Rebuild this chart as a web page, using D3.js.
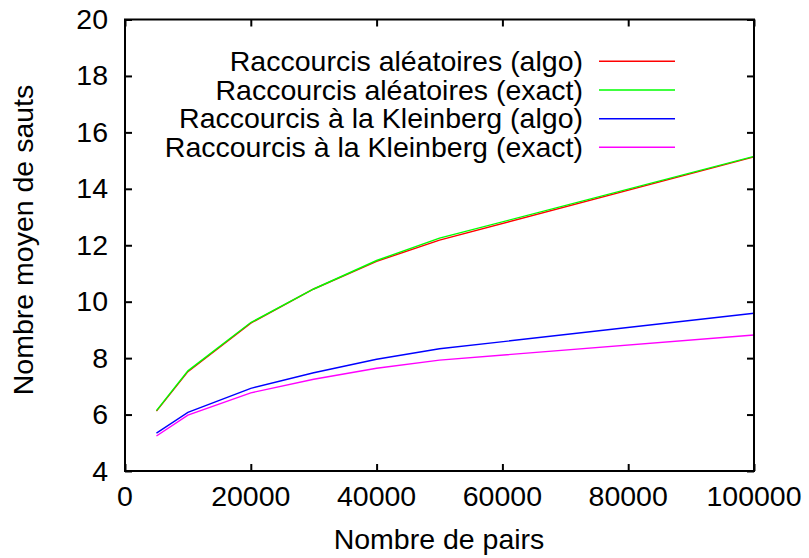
<!DOCTYPE html>
<html>
<head>
<meta charset="utf-8">
<script src="https://cdn.jsdelivr.net/npm/d3@7"></script>
<style>
  body { margin: 0; background: #fff; }
  text { font-family: "Liberation Sans", Arial, sans-serif; fill: #000; }
</style>
</head>
<body>
<svg id="chart"></svg>
<script>
// data
var pairs = [5000, 10000, 20000, 30000, 40000, 50000, 100000];
var randAlgo = [6.12, 7.52, 9.24, 10.45, 11.43, 12.18, 15.13];
var randExact = [6.14, 7.55, 9.26, 10.45, 11.46, 12.25, 15.15];
var kleinAlgo = [5.34, 6.08, 6.93, 7.48, 7.96, 8.33, 9.59];
var kleinExact = [5.24, 5.98, 6.77, 7.25, 7.64, 7.93, 8.82];

var seriesNames = [
    "Raccourcis aléatoires (algo)",
    "Raccourcis aléatoires (exact)",
    "Raccourcis à la Kleinberg (algo)",
    "Raccourcis à la Kleinberg (exact)"
];
var seriesColors = ["#ff0000", "#00ff00", "#0000ff", "#ff00ff"];
var seriesValues = [randAlgo, randExact, kleinAlgo, kleinExact];

var xTicks = [0, 20000, 40000, 60000, 80000, 100000];
var yTicks = [4, 6, 8, 10, 12, 14, 16, 18, 20];

var width = 809, height = 558;
var plotLeft = 125, plotRight = 754, plotTop = 19.5, plotBottom = 471;
var fontSize = 28.5;

var svg = d3.select("#chart")
    .attr("width", width)
    .attr("height", height);

// scales
var xScale = d3.scaleLinear().domain([0, 100000]).range([plotLeft, plotRight]);
var yScale = d3.scaleLinear().domain([4, 20]).range([plotBottom, plotTop]);

var line = d3.line()
    .x(function(d) { return xScale(d.x); })
    .y(function(d) { return yScale(d.y); });

// ticks on all four sides, pointing inward
function noDomain(g) { g.select(".domain").remove(); }

svg.append("g")
    .attr("transform", "translate(0," + plotBottom + ")")
    .call(d3.axisTop(xScale).tickValues(xTicks).tickSize(7).tickFormat(""))
    .call(noDomain)
    .selectAll("line").attr("stroke", "#000").attr("stroke-width", 2);

svg.append("g")
    .attr("transform", "translate(0," + plotTop + ")")
    .call(d3.axisBottom(xScale).tickValues(xTicks).tickSize(7).tickFormat(""))
    .call(noDomain)
    .selectAll("line").attr("stroke", "#000").attr("stroke-width", 2);

svg.append("g")
    .attr("transform", "translate(" + plotLeft + ",0)")
    .call(d3.axisRight(yScale).tickValues(yTicks).tickSize(7).tickFormat(""))
    .call(noDomain)
    .selectAll("line").attr("stroke", "#000").attr("stroke-width", 2);

svg.append("g")
    .attr("transform", "translate(" + plotRight + ",0)")
    .call(d3.axisLeft(yScale).tickValues(yTicks).tickSize(7).tickFormat(""))
    .call(noDomain)
    .selectAll("line").attr("stroke", "#000").attr("stroke-width", 2);

// tick labels
svg.append("g").selectAll("text")
    .data(xTicks)
    .enter().append("text")
    .attr("x", function(d) { return xScale(d); })
    .attr("y", 506)
    .style("text-anchor", "middle")
    .style("font-size", fontSize + "px")
    .text(function(d) { return d; });

svg.append("g").selectAll("text")
    .data(yTicks)
    .enter().append("text")
    .attr("x", 108)
    .attr("y", function(d) { return yScale(d) + 9.5; })
    .style("text-anchor", "end")
    .style("font-size", fontSize + "px")
    .text(function(d) { return d; });

// series lines
seriesValues.forEach(function(vals, i) {
    var pts = pairs.map(function(p, j) { return { x: p, y: vals[j] }; });
    svg.append("path")
        .datum(pts)
        .attr("d", line)
        .attr("fill", "none")
        .attr("stroke", seriesColors[i])
        .attr("stroke-width", 1.4);
});

// legend
var legendY = [61.3, 90, 118.7, 147.3];
seriesNames.forEach(function(name, i) {
    svg.append("text")
        .attr("x", 583)
        .attr("y", legendY[i] + 9.5)
        .style("text-anchor", "end")
        .style("font-size", fontSize + "px")
        .text(name);
    svg.append("line")
        .attr("x1", 599).attr("x2", 675)
        .attr("y1", legendY[i]).attr("y2", legendY[i])
        .attr("stroke", seriesColors[i])
        .attr("stroke-width", 1.4);
});

// frame
svg.append("rect")
    .attr("x", plotLeft).attr("y", plotTop)
    .attr("width", plotRight - plotLeft).attr("height", plotBottom - plotTop)
    .attr("fill", "none")
    .attr("stroke", "#000")
    .attr("stroke-width", 2);

// axis titles
svg.append("text")
    .attr("x", 439)
    .attr("y", 549)
    .style("text-anchor", "middle")
    .style("font-size", fontSize + "px")
    .text("Nombre de pairs");

svg.append("text")
    .attr("transform", "translate(33,240) rotate(-90)")
    .style("text-anchor", "middle")
    .style("font-size", fontSize + "px")
    .text("Nombre moyen de sauts");
</script>
</body>
</html>
